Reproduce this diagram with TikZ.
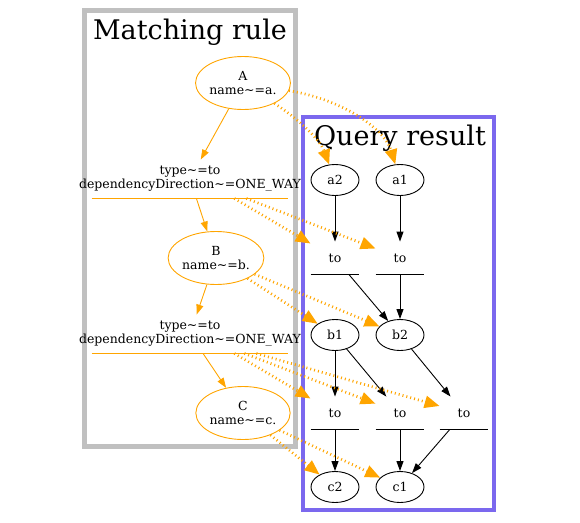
\documentclass[tikz,border=0pt]{standalone}
\usepackage{fontspec}
\setmainfont{DejaVu Serif}
\usetikzlibrary{shapes.geometric,arrows.meta}

\definecolor{ruleorange}{HTML}{FFA500}
\definecolor{rulegray}{HTML}{C0C0C0}
\definecolor{resultblue}{HTML}{7B68EE}

\tikzstyle{pattern}=[ellipse,
    draw=ruleorange,
    minimum width=92pt,
    minimum height=53pt,
    inner sep=0pt,
    align=center]
\tikzstyle{vertex}=[ellipse,
    draw,
    minimum width=48pt,
    minimum height=31pt,
    inner sep=0pt]
\tikzstyle{edgelabel}=[rectangle,
    minimum height=38pt,
    inner xsep=-13pt,
    inner ysep=0pt,
    align=center]
\tikzstyle{relation}=[rectangle,
    minimum width=48pt,
    minimum height=32pt,
    inner sep=0pt]
\tikzstyle{title}=[anchor=base, font=\fontsize{27pt}{30pt}\selectfont]
\tikzstyle{rule}=[draw=ruleorange, -{Triangle[length=10pt,width=7pt]}]
\tikzstyle{match}=[draw=ruleorange,
    line width=2.7pt,
    dash pattern=on 1pt off 3pt,
    -{Triangle[length=15pt,width=12pt]}]

\begin{document}
\begin{tikzpicture}[x=1pt, y=-1pt,
    line width=0.9pt,
    font=\fontsize{12.5pt}{14pt}\selectfont,
    >={Triangle[length=10pt,width=7pt]}]
    \useasboundingbox (0,0) rectangle (580,522);
    \draw [rulegray, line width=4.3pt] (84.5,10.5) rectangle (295.5,446.5);
    \draw [resultblue, line width=4.3pt] (303,117) rectangle (494,510);
    \node (rtitle) [title] at (190,39) {Matching rule};
    \node (qtitle) [title] at (400,145) {Query result};

    \node (matcha) [pattern] at (243,83) {A\\name\textasciitilde=a.};
    \node (labab) [edgelabel] at (190,179) {type\textasciitilde=to\\dependencyDirection\textasciitilde=ONE\_WAY};
    \node (matchb) [pattern] at (216,258) {B\\name\textasciitilde=b.};
    \node (labbc) [edgelabel] at (190,334) {type\textasciitilde=to\\dependencyDirection\textasciitilde=ONE\_WAY};
    \node (matchc) [pattern] at (243,413) {C\\name\textasciitilde=c.};

    \node (resa2) [vertex] at (335,180) {a2};
    \node (resa1) [vertex] at (400,180) {a1};
    \node (to1a) [relation] at (335,258) {to};
    \node (to1b) [relation] at (400,258) {to};
    \node (resb1) [vertex] at (335,335) {b1};
    \node (resb2) [vertex] at (400,335) {b2};
    \node (to2a) [relation] at (335,413) {to};
    \node (to2b) [relation] at (400,413) {to};
    \node (to2c) [relation] at (464,413) {to};
    \node (resc2) [vertex] at (335,487) {c2};
    \node (resc1) [vertex] at (400,487) {c1};

    \foreach \n in {labab,labbc}
        \draw [ruleorange] (\n.south west) -- (\n.south east);
    \foreach \n in {to1a,to1b,to2a,to2b,to2c}
        \draw (\n.south west) -- (\n.south east);

    \draw [rule] (matcha) -- (labab);
    \draw [rule] (labab) -- (matchb);
    \draw [rule] (matchb) -- (labbc);
    \draw [rule] (labbc) -- (matchc);

    \draw [draw,->] (resa2) -- (to1a);
    \draw [draw,->] (resa1) -- (to1b);
    \draw [draw,->] (to1a) -- (resb2);
    \draw [draw,->] (to1b) -- (resb2);
    \draw [draw,->] (resb1) -- (to2a);
    \draw [draw,->] (resb1) -- (to2b);
    \draw [draw,->] (resb2) -- (to2c);
    \draw [draw,->] (to2a) -- (resc2);
    \draw [draw,->] (to2b) -- (resc1);
    \draw [draw,->] (to2c) -- (resc1);

    \draw [match] (matcha) .. controls (300,120) and (320,140) .. (resa2);
    \draw [match] (matcha) .. controls (345,100) and (385,130) .. (resa1);
    \draw [match] ([xshift=-54pt]labab.south east) -- (to1a);
    \draw [match] ([xshift=-42pt]labab.south east) -- (to1b);
    \draw [match] (matchb) -- (resb1);
    \draw [match] (matchb) -- (resb2);
    \draw [match] ([xshift=-54pt]labbc.south east) -- (to2a);
    \draw [match] ([xshift=-44pt]labbc.south east) -- (to2b);
    \draw [match] ([xshift=-32pt]labbc.south east) -- (to2c);
    \draw [match] (matchc) -- (resc2);
    \draw [match] (matchc) -- (resc1);
\end{tikzpicture}
\end{document}
